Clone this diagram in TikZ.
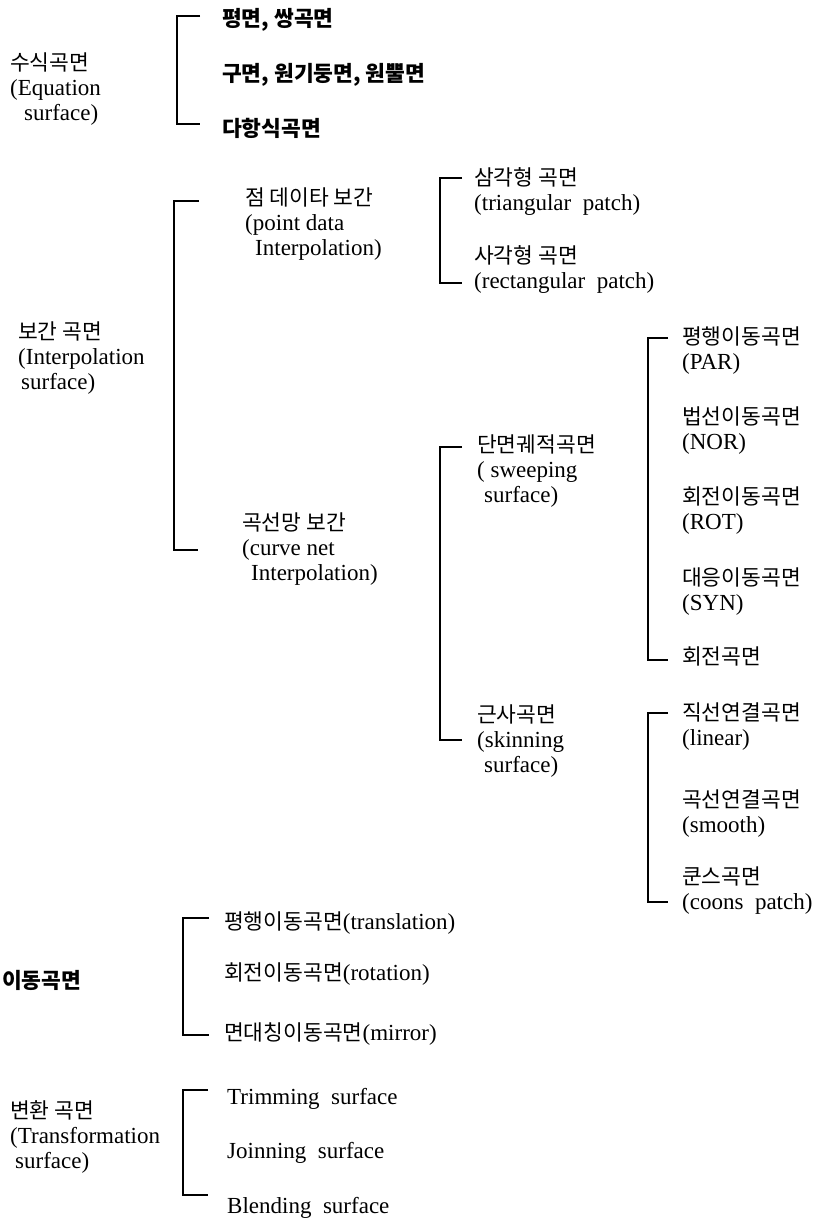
\documentclass[tikz,border=0pt]{standalone}
\usepackage{fontspec}
\usetikzlibrary{calc}
\setmainfont{Liberation Serif}
\newfontfamily\krfont{Noto Sans CJK KR}
\newcommand\K[1]{{\krfont\fontsize{21.5}{25}\selectfont #1}}
\newcommand\KB[1]{{\krfont\bfseries\fontsize{21.5}{25}\selectfont #1}}
\begin{document}
\begin{tikzpicture}[x=1pt,y=-1pt,
  lbl/.style={anchor=north west,inner sep=0pt,align=left,font=\fontsize{23}{25}\selectfont},
  brk/.style={line width=1.6pt}]
\useasboundingbox (0,0) rectangle (815,1219);
% ---------- Group 1 ----------
\node[lbl] (eq) at (10,53) {\K{수식곡면}\\(Equation\\\hspace*{14pt}surface)};
\node[lbl] (e1) at (222,8) {\KB{평면, 쌍곡면}};
\node[lbl] (e2) at (222,63) {\KB{구면, 원기둥면, 원뿔면}};
\node[lbl] (e3) at (222,118) {\KB{다항식곡면}};
\coordinate (b1t) at (177,16);
\coordinate (b1b) at (177,124);
\draw[brk] ($(b1t)+(23,0)$) -- (b1t) -- (b1b) -- ++(23,0);
% ---------- Group 2 ----------
\node[lbl] (ip) at (18,322) {\K{보간 곡면}\\(Interpolation\\\hspace*{3pt}surface)};
\coordinate (b2t) at (174,201);
\coordinate (b2b) at (174,550);
\draw[brk] ($(b2t)+(25,0)$) -- (b2t) -- (b2b) -- ++(24,0);
\node[lbl] (pd) at (245,188) {\K{점 데이타 보간}\\(point data\\\hspace*{10pt}Interpolation)};
\node[lbl] (cn) at (242,513) {\K{곡선망 보간}\\(curve net\\\hspace*{9pt}Interpolation)};
% point data children
\coordinate (b3t) at (440,178);
\coordinate (b3b) at (440,283);
\draw[brk] ($(b3t)+(22,0)$) -- (b3t) -- (b3b) -- ++(22,0);
\node[lbl] (tp) at (474,167) {\K{삼각형 곡면}\\(triangular\ \ patch)};
\node[lbl] (rp) at (474,245) {\K{사각형 곡면}\\(rectangular\ \ patch)};
% curve net children
\coordinate (b4t) at (440,447);
\coordinate (b4b) at (440,740);
\draw[brk] ($(b4t)+(22,0)$) -- (b4t) -- (b4b) -- ++(22,0);
\node[lbl] (sw) at (477,435) {\K{단면궤적곡면}\\( sweeping\\\hspace*{7pt}surface)};
\node[lbl] (sk) at (477,705) {\K{근사곡면}\\(skinning\\\hspace*{7pt}surface)};
% sweeping children
\coordinate (b5t) at (648,338);
\coordinate (b5b) at (648,660);
\draw[brk] ($(b5t)+(20,0)$) -- (b5t) -- (b5b) -- ++(20,0);
\node[lbl] (par) at (682,327) {\K{평행이동곡면}\\(PAR)};
\node[lbl] (nor) at (682,407) {\K{법선이동곡면}\\(NOR)};
\node[lbl] (rot) at (682,487) {\K{회전이동곡면}\\(ROT)};
\node[lbl] (syn) at (682,568) {\K{대응이동곡면}\\(SYN)};
\node[lbl] (rev) at (682,647) {\K{회전곡면}};
% skinning children
\coordinate (b6t) at (648,713);
\coordinate (b6b) at (648,902);
\draw[brk] ($(b6t)+(20,0)$) -- (b6t) -- (b6b) -- ++(20,0);
\node[lbl] (lin) at (682,703) {\K{직선연결곡면}\\(linear)};
\node[lbl] (smo) at (682,790) {\K{곡선연결곡면}\\(smooth)};
\node[lbl] (coo) at (682,867) {\K{쿤스곡면}\\(coons\ \ patch)};
% ---------- Group 4 ----------
\node[lbl] (mv) at (2,970) {\KB{이동곡면}};
\coordinate (b7t) at (183,918);
\coordinate (b7b) at (183,1035);
\draw[brk] ($(b7t)+(26,0)$) -- (b7t) -- (b7b) -- ++(26,0);
\node[lbl] (tr) at (224,912) {\K{평행이동곡면}(translation)};
\node[lbl] (ro) at (224,963) {\K{회전이동곡면}(rotation)};
\node[lbl] (mi) at (224,1023) {\K{면대칭이동곡면}(mirror)};
% ---------- Group 5 ----------
\node[lbl] (tf) at (10,1100) {\K{변환 곡면}\\(Transformation\\\hspace*{5pt}surface)};
\coordinate (b8t) at (183,1090);
\coordinate (b8b) at (183,1195);
\draw[brk] ($(b8t)+(25,0)$) -- (b8t) -- (b8b) -- ++(25,0);
\node[lbl] (trim) at (227,1088) {Trimming\ \ surface};
\node[lbl] (join) at (227,1142) {Joinning\ \ surface};
\node[lbl] (blend) at (227,1197) {Blending\ \ surface};
\end{tikzpicture}
\end{document}
